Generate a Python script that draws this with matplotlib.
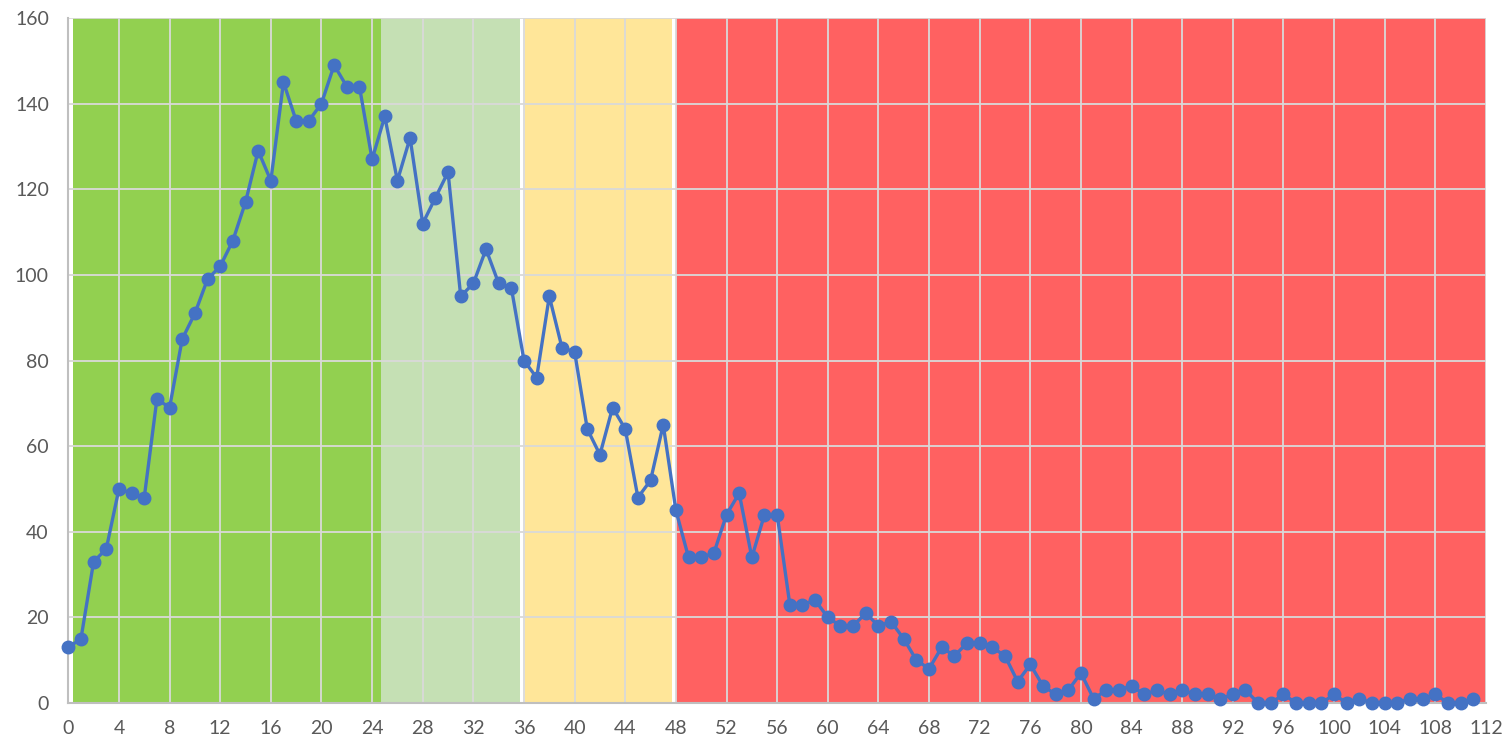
import matplotlib
matplotlib.use("Agg")
import matplotlib.pyplot as plt

# Data
x_values = list(range(112))
y_values = [13, 15, 33, 36, 50, 49, 48, 71, 69, 85,
            91, 99, 102, 108, 117, 129, 122, 145, 136, 136,
            140, 149, 144, 144, 127, 137, 122, 132, 112, 118,
            124, 95, 98, 106, 98, 97, 80, 76, 95, 83,
            82, 64, 58, 69, 64, 48, 52, 65, 45, 34,
            34, 35, 44, 49, 34, 44, 44, 23, 23, 24,
            20, 18, 18, 21, 18, 19, 15, 10, 8, 13,
            11, 14, 14, 13, 11, 5, 9, 4, 2, 3,
            7, 1, 3, 3, 4, 2, 3, 2, 3, 2,
            2, 1, 2, 3, 0, 0, 2, 0, 0, 0,
            2, 0, 1, 0, 0, 0, 1, 1, 2, 0,
            0, 1]

band_starts = [0.37, 24.69, 36.05, 47.98]
band_ends = [24.69, 35.71, 47.72, 112.0]
band_colors = ["#92D050", "#C5E0B4", "#FFE699", "#FF6161"]

x_ticks = list(range(0, 113, 4))
y_ticks = list(range(0, 161, 20))

plt.rcParams['font.family'] = ['Lato', 'DejaVu Sans']

fig = plt.figure(figsize=(15.11, 7.44), dpi=100)
ax = fig.add_axes([68.3 / 1511, 1 - 703 / 744, (1486 - 68.3) / 1511, (703 - 18) / 744])

for s, e, c in zip(band_starts, band_ends, band_colors):
    ax.axvspan(s, e, color=c, lw=0, zorder=0.5)

ax.plot(x_values, y_values, color="#4472C4", lw=2.4, marker="o", markersize=9,
        zorder=3, clip_on=False)

ax.set_xlim(0, 112)
ax.set_ylim(0, 160)
ax.set_xticks(x_ticks)
ax.set_yticks(y_ticks)
ax.grid(True, color="#D9D9D9", lw=1.3, zorder=1)
ax.tick_params(axis='both', length=0, labelsize=14, colors="#595959")
ax.tick_params(axis='x', pad=12)
ax.tick_params(axis='y', pad=14)

for side in ['top', 'right']:
    ax.spines[side].set_visible(False)
for side in ['left', 'bottom']:
    ax.spines[side].set_color("#BFBFBF")
    ax.spines[side].set_linewidth(1.5)

fig.savefig("out.png", dpi=100)
